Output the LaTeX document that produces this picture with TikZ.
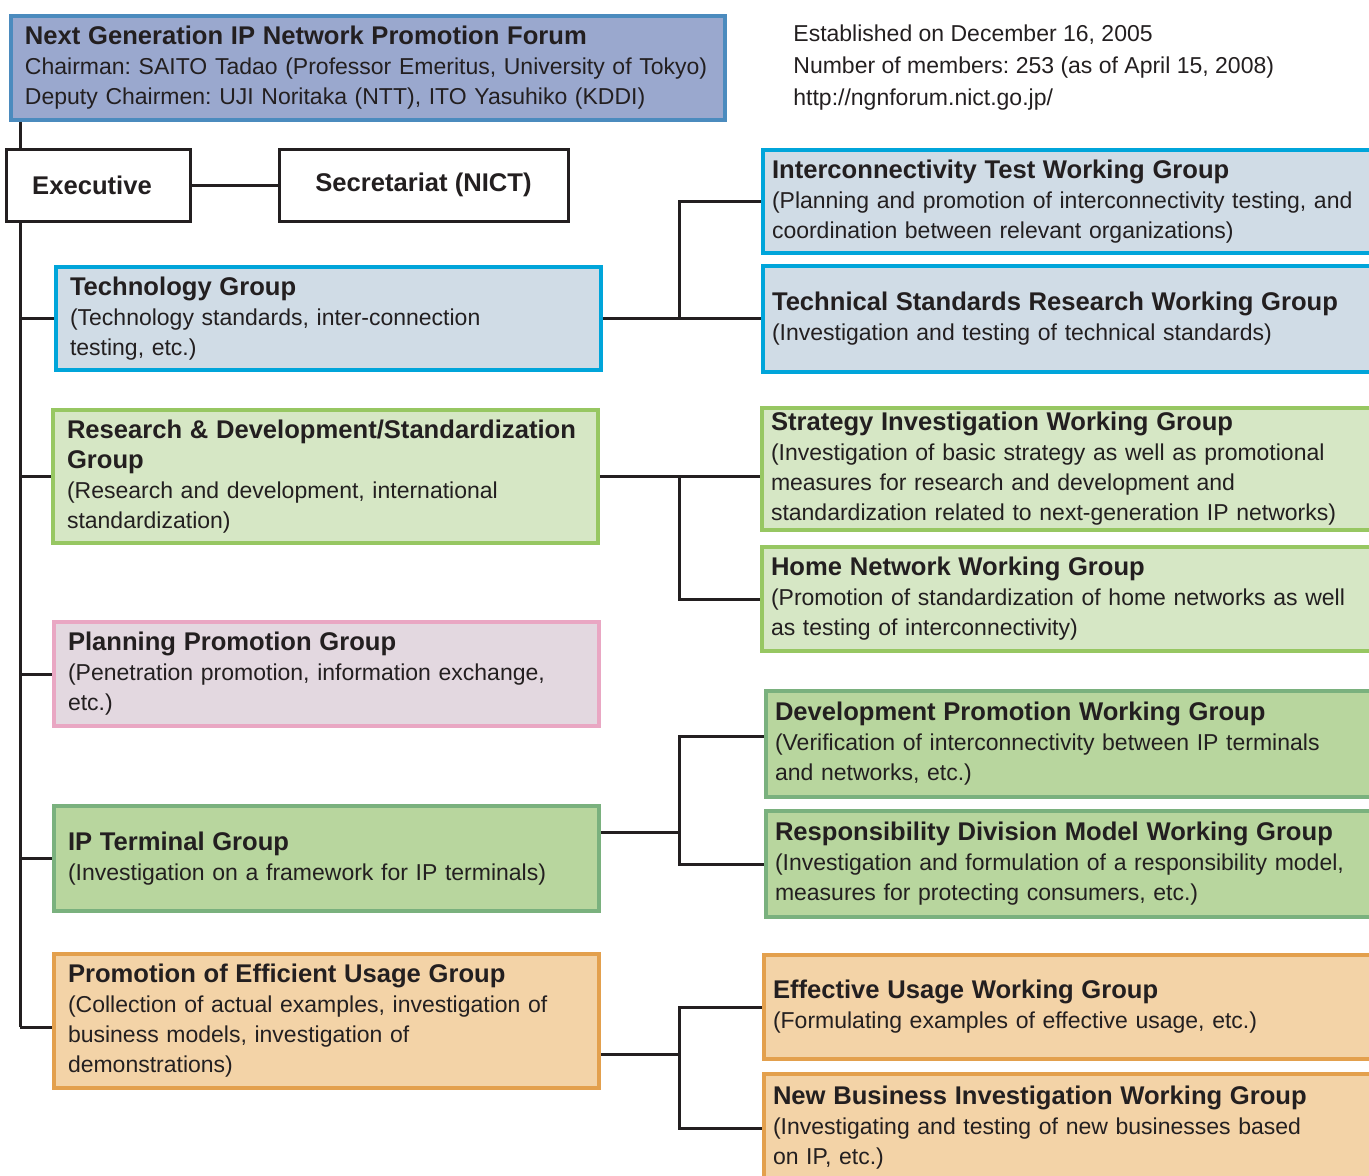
\documentclass[tikz,border=0pt]{standalone}
\usepackage{fontspec}
\setmainfont{Liberation Sans}
\frenchspacing

\definecolor{forumfill}{HTML}{9AA8CE}
\definecolor{forumline}{HTML}{4B8BBE}
\definecolor{bluefill}{HTML}{D0DCE6}
\definecolor{blueline}{HTML}{00A5DA}
\definecolor{rdfill}{HTML}{D6E7C5}
\definecolor{rdline}{HTML}{97C762}
\definecolor{pinkfill}{HTML}{E3D8E0}
\definecolor{pinkline}{HTML}{E9A7C3}
\definecolor{ipfill}{HTML}{B8D69E}
\definecolor{ipline}{HTML}{7AB17E}
\definecolor{orangefill}{HTML}{F3D3A7}
\definecolor{orangeline}{HTML}{E3A04D}
\definecolor{ink}{HTML}{231F20}

\newcommand{\bodyfont}{\fontsize{11.5}{15}\selectfont}
\newcommand{\headfont}{\fontsize{12.8}{15}\selectfont\bfseries}

\begin{document}
\begin{tikzpicture}[
    x=0.5pt, y=-0.5pt,
    grp/.style={rectangle, draw, line width=2pt, anchor=north west, align=left,
                inner xsep=7pt, inner ysep=0pt, text width=258.5pt, font=\bodyfont, text=ink},
    wg/.style={grp, inner xsep=4.5pt, text width=330pt},
    box/.style={rectangle, draw=ink, line width=1.5pt, fill=white, anchor=north west,
                minimum height=36pt, font=\headfont, text=ink},
    info/.style={anchor=base west, inner sep=0pt, font=\bodyfont, text=ink},
    forumcol/.style={fill=forumfill, draw=forumline},
    bluecol/.style={fill=bluefill, draw=blueline},
    rdcol/.style={fill=rdfill, draw=rdline},
    pinkcol/.style={fill=pinkfill, draw=pinkline},
    ipcol/.style={fill=ipfill, draw=ipline},
    orangecol/.style={fill=orangefill, draw=orangeline},
    link/.style={line width=1.5pt, draw=ink}
]
\useasboundingbox (0,0) rectangle (1369,1175);

% forum and info
\node (forum) [grp, forumcol, inner xsep=7pt, text width=343pt, minimum height=52pt] at (9,14)
  {{\headfont Next Generation IP Network Promotion Forum}\\
   Chairman: SAITO Tadao (Professor Emeritus, University of Tokyo)\\
   Deputy Chairmen: UJI Noritaka (NTT), ITO Yasuhiko (KDDI)};
\node (info1) [info] at (793,41) {Established on December 16, 2005};
\node (info2) [info] at (793,73) {Number of members: 253 (as of April 15, 2008)};
\node (info3) [info] at (793,105) {http://ngnforum.nict.go.jp/};

% executive
\node (exec) [box, minimum width=92pt] at (4.5,147.5) {Executive\hspace*{6pt}};
\node (secr) [box, minimum width=144.5pt] at (277.5,147.5) {Secretariat (NICT)};

% groups
\node (tech) [grp, bluecol, minimum height=51.5pt] at (54,265)
  {{\headfont Technology Group}\\
   (Technology standards, inter-connection\\ testing, etc.)};
\node (rd) [grp, rdcol, minimum height=66.5pt] at (51,408)
  {{\headfont Research \& Development/Standardization\\ Group}\\
   (Research and development, international\\ standardization)};
\node (plan) [grp, pinkcol, minimum height=52pt] at (52,620)
  {{\headfont Planning Promotion Group}\\
   (Penetration promotion, information exchange,\\ etc.)};
\node (ipt) [grp, ipcol, minimum height=52.5pt] at (52,804)
  {{\headfont IP Terminal Group}\\
   (Investigation on a framework for IP terminals)};
\node (use) [grp, orangecol, minimum height=67pt] at (52,952)
  {{\headfont Promotion of Efficient Usage Group}\\
   (Collection of actual examples, investigation of\\ business models, investigation of\\ demonstrations)};

% working groups
\node (ictest) [wg, bluecol, minimum height=51.5pt] at (761,148)
  {{\headfont Interconnectivity Test Working Group}\\
   (Planning and promotion of interconnectivity testing, and\\ coordination between relevant organizations)};
\node (tsr) [wg, bluecol, minimum height=53pt] at (761,264)
  {{\headfont Technical Standards Research Working Group}\\
   (Investigation and testing of technical standards)};
\node (strat) [wg, rdcol, minimum height=61pt] at (760,406)
  {{\headfont Strategy Investigation Working Group}\\
   (Investigation of basic strategy as well as promotional\\ measures for research and development and\\ standardization related to next-generation IP networks)};
\node (home) [wg, rdcol, minimum height=52pt] at (760,545)
  {{\headfont Home Network Working Group}\\
   (Promotion of standardization of home networks as well\\ as testing of interconnectivity)};
\node (devp) [wg, ipcol, minimum height=53pt] at (764,689)
  {{\headfont Development Promotion Working Group}\\
   (Verification of interconnectivity between IP terminals\\ and networks, etc.)};
\node (resp) [wg, ipcol, minimum height=53pt] at (764,809)
  {{\headfont Responsibility Division Model Working Group}\\
   (Investigation and formulation of a responsibility model,\\ measures for protecting consumers, etc.)};
\node (effu) [wg, orangecol, minimum height=52pt] at (762,953)
  {{\headfont Effective Usage Working Group}\\
   (Formulating examples of effective usage, etc.)};
\node (newb) [wg, orangecol, minimum height=54pt] at (762,1072)
  {{\headfont New Business Investigation Working Group}\\
   (Investigating and testing of new businesses based\\ on IP, etc.)};

% trunk on the left
\coordinate (trunk) at (20,0);
\coordinate (fork) at (679,0);
\coordinate (ipout) at ([yshift=13pt]ipt.east);
\coordinate (useout) at ([yshift=-16.5pt]use.east);
\draw [link] (trunk |- forum.south) -- (trunk |- exec.north);
\draw [link] (exec.east) -- (secr.west);
\draw [link] (trunk |- exec.south) -- (trunk |- 0,1027);
\foreach \g in {tech, rd, plan, ipt}
  \draw [link] (trunk |- \g.west) -- (\g.west);
\draw [link] (trunk |- 0,1027) -- (use.west |- 0,1027);

% branches on the right
\draw [link] (tech.east) -- (tsr.west |- tech.east);
\draw [link] (ictest.west) -| (fork |- tech.east);
\draw [link] (rd.east) -- (strat.west |- rd.east);
\draw [link] (fork |- rd.east) |- (home.west);
\draw [link] (ipout) -- (fork |- ipout);
\draw [link] ([yshift=4pt]devp.west) -| (fork |- resp.west) -- (resp.west);
\draw [link] (useout) -- (fork |- useout);
\draw [link] (effu.west) -| (fork |- newb.west) -- (newb.west);
\end{tikzpicture}
\end{document}
